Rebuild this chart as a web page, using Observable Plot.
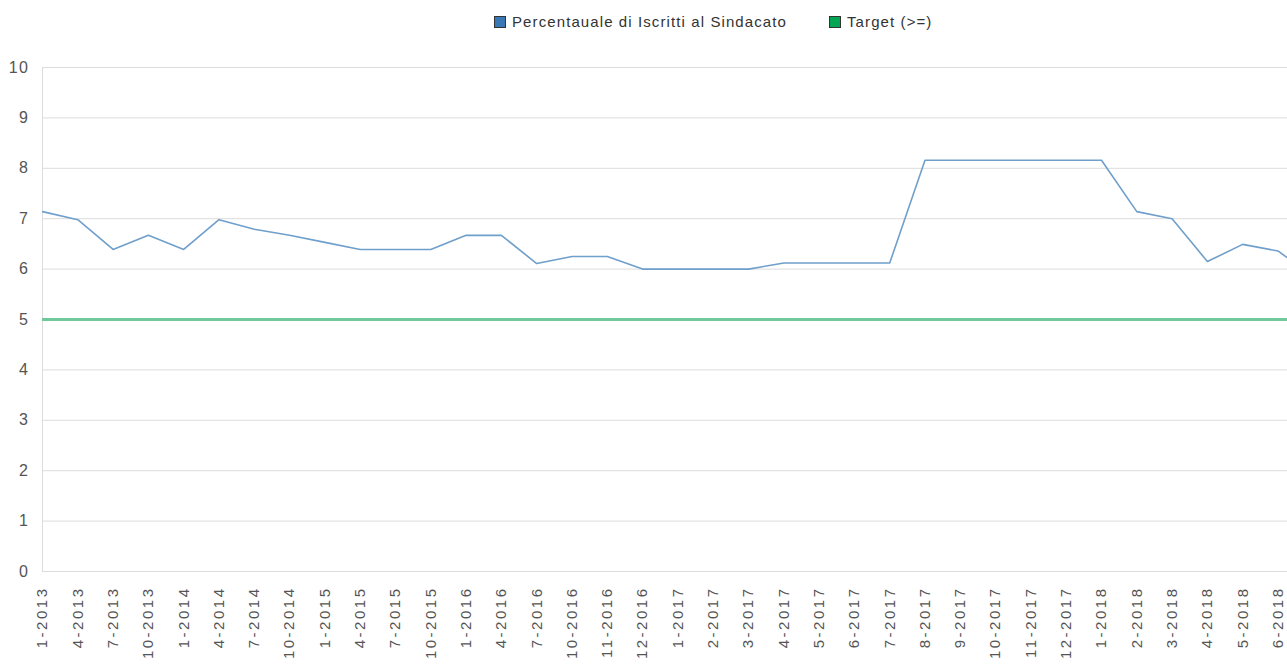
<!DOCTYPE html>
<html><head><meta charset="utf-8">
<script src="https://cdn.jsdelivr.net/npm/d3@7"></script>
<script src="https://cdn.jsdelivr.net/npm/@observablehq/plot@0.6"></script>
<style>
body{margin:0;background:#fff;overflow:hidden;font-family:"Liberation Sans",Arial,sans-serif;width:1287px;height:665px;position:relative}
#legend{position:absolute;left:494px;top:13px;display:flex;align-items:center;font-size:15px;letter-spacing:1.1px;color:#333;white-space:nowrap}
.sw{width:10px;height:10px;border:1px solid #333;margin-right:6px;display:inline-block}
.item{display:flex;align-items:center;margin-right:42px}
#chart{position:absolute;left:0;top:40px}
#chart g[aria-label="y-axis tick label"] text{letter-spacing:1.5px}
#chart g[aria-label="x-axis tick label"] text{letter-spacing:2.5px}
</style></head><body>
<div id="legend"></div><div id="chart"></div>
<script>
const periods = ["1-2013","4-2013","7-2013","10-2013","1-2014","4-2014","7-2014","10-2014","1-2015","4-2015","7-2015","10-2015","1-2016","4-2016","7-2016","10-2016","11-2016","12-2016","1-2017","2-2017","3-2017","4-2017","5-2017","6-2017","7-2017","8-2017","9-2017","10-2017","11-2017","12-2017","1-2018","2-2018","3-2018","4-2018","5-2018","6-2018","7-2018"];
const percentuale = [7.14,6.98,6.39,6.67,6.39,6.98,6.79,6.67,6.53,6.39,6.39,6.39,6.67,6.67,6.11,6.25,6.25,6.0,6.0,6.0,6.0,6.12,6.12,6.12,6.12,8.16,8.16,8.16,8.16,8.16,8.16,7.14,7.0,6.15,6.49,6.36,5.85];
const targetValue = 5;
const yTicks = [0,1,2,3,4,5,6,7,8,9,10];
const xTickLabels = periods.slice(0, 36);
const seriesNames = ["Percentauale di Iscritti al Sindacato", "Target (>=)"];
const seriesColors = ["#3a78b5", "#00a651"];

const data = periods.map((p, i) => ({period: p, index: i, value: percentuale[i]}));
const xTickIndex = xTickLabels.map((_, i) => i);

const legend = document.getElementById("legend");
seriesNames.forEach((n, i) => {
  const it = document.createElement("div");
  it.className = "item";
  const sw = document.createElement("span");
  sw.className = "sw";
  sw.style.background = seriesColors[i];
  it.appendChild(sw);
  const t = document.createElement("span");
  t.textContent = n;
  it.appendChild(t);
  legend.appendChild(it);
});

const step = 35.3;
const chart = Plot.plot({
  width: 1287,
  height: 625,
  marginLeft: 42,
  marginRight: 0,
  marginTop: 27,
  marginBottom: 94,
  style: {fontFamily: "'Liberation Sans', Arial, sans-serif", fontSize: "15px", color: "#555", background: "#fff"},
  x: {type: "linear", domain: [0, periods.length - 1], range: [42, 42 + step * (periods.length - 1)], label: null},
  y: {domain: [0, 10], label: null},
  marks: [
    Plot.ruleY(yTicks, {stroke: "#dcdcdc", strokeWidth: 1}),
    Plot.ruleX([0], {stroke: "#dcdcdc", strokeWidth: 1}),
    Plot.ruleY([targetValue], {stroke: "#6fc99a", strokeWidth: 3}),
    Plot.line(data, {x: "index", y: "value", stroke: "#6f9fcb", strokeWidth: 1.6, clip: true}),
    Plot.axisY({ticks: yTicks, tickSize: 0, tickPadding: 13, fontSize: 16}),
    Plot.axisX({ticks: xTickIndex, tickFormat: i => xTickLabels[i], tickRotate: -90, tickSize: 0, tickPadding: 15, fontSize: 15})
  ]
});
document.getElementById("chart").appendChild(chart);
</script>
</body></html>
